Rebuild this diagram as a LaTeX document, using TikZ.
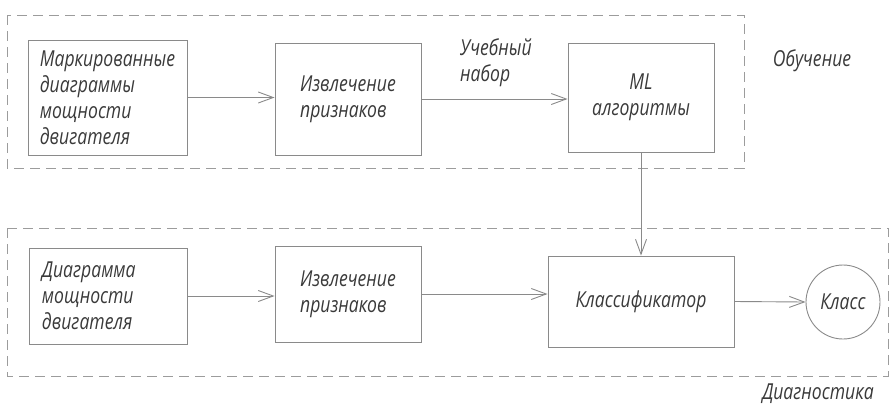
\documentclass[tikz,border=0pt]{standalone}
\usepackage{fontspec}
\setmainfont{Open Sans}[ItalicFeatures={FakeStretch=0.8}]
\usetikzlibrary{arrows.meta}
\definecolor{linec}{HTML}{8A8A8A}
\definecolor{txtc}{HTML}{3A3A3A}
\begin{document}
\begin{tikzpicture}[x=1bp,y=-1bp,
  every node/.style={font=\fontsize{22bp}{26bp}\selectfont\itshape, text=txtc},
  blk/.style={draw=linec, line width=0.9bp, rectangle, align=left, inner sep=0pt},
  grp/.style={draw=linec!85, line width=1bp, dash pattern=on 10bp off 6bp},
  arr/.style={draw=linec, line width=0.9bp, -{Straight Barb[length=15bp,width=11bp,line width=0.9bp]}},
  lbl/.style={align=left, inner sep=0pt}]
\useasboundingbox (0,0) rectangle (890,409);
% group frames
\draw[grp] (7,15) rectangle (744,168);
\draw[grp] (7,228) rectangle (888,376);
% top row
\node[blk, minimum width=159bp, minimum height=115bp] (b1) at (107.5,97.5) {Маркированные\\диаграммы\\мощности\\двигателя};
\node[blk, minimum width=146bp, minimum height=112bp] (b2) at (348,99) {Извлечение\\признаков};
\node[blk, minimum width=146bp, minimum height=109bp, align=center] (b3) at (641,97.5) {ML\\алгоритмы};
% bottom row
\node[blk, minimum width=158bp, minimum height=96bp, text width=132bp] (b4) at (108,296) {Диаграмма\\мощности\\двигателя};
\node[blk, minimum width=146bp, minimum height=96bp] (b5) at (348,294) {Извлечение\\признаков};
\node[blk, minimum width=186bp, minimum height=91bp, align=center] (b6) at (641,301.5) {Классификатор};
\node[draw=linec, line width=0.9bp, circle, minimum size=74bp, inner sep=0pt] (c) at (843,302) {Класс};
% labels
\node[lbl, anchor=north west] (tl) at (460,38) {Учебный\\набор};
\node[lbl] (ob) at (812,61) {Обучение};
\node[lbl] (dg) at (818,394) {Диагностика};
% connectors
\draw[arr] (b1.east) -- (b1.east -| b2.west);
\draw[arr] (b2.east) -- (b2.east -| b3.west);
\draw[arr] (b3.south) -- (b3.south |- b6.north);
\draw[arr] (b4.east) -- (b4.east -| b5.west);
\draw[arr] (b5.east) -- (b5.east -| b6.west);
\draw[arr] (b6.east) -- (c.west);
\end{tikzpicture}
\end{document}
